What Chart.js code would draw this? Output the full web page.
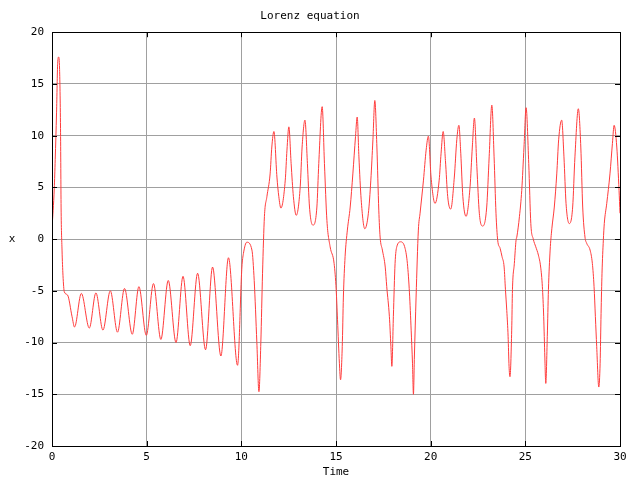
<!DOCTYPE html>
<html>
<head>
<meta charset="utf-8">
<script src="https://cdn.jsdelivr.net/npm/chart.js@4.4.0/dist/chart.umd.min.js"></script>
<style>
  html, body { margin: 0; padding: 0; background: #fff; }
  #wrap { width: 640px; height: 480px; }
</style>
</head>
<body>
<div id="wrap"><canvas id="lorenz" width="640" height="480"></canvas></div>
<script>
// time axis
const timeValues = [
  0, 0.12, 0.17, 0.24, 0.30, 0.35, 0.40, 0.45, 0.48, 0.53, 0.58, 0.65, 0.82, 1.06, 1.19,
  1.55, 1.97, 2.32, 2.69, 3.08, 3.46, 3.83, 4.24, 4.59, 4.98, 5.36, 5.75, 6.14, 6.55,
  6.92, 7.30, 7.69, 8.11, 8.48, 8.92, 9.32, 9.80, 10.03, 10.11, 10.29, 10.56, 10.68,
  10.82, 10.93, 11.03, 11.12, 11.22, 11.35, 11.52, 11.61, 11.72, 11.88, 11.98, 12.09,
  12.32, 12.41, 12.51, 12.63, 12.75, 12.90, 13.11, 13.21, 13.36, 13.49, 13.60, 13.78,
  13.99, 14.09, 14.27, 14.39, 14.52, 14.69, 14.90, 15.01, 15.08, 15.18, 15.24, 15.33,
  15.39, 15.48, 15.60, 15.75, 15.89, 16.03, 16.12, 16.21, 16.33, 16.52, 16.71, 16.84,
  16.95, 17.05, 17.16, 17.26, 17.33, 17.45, 17.60, 17.68, 17.82, 17.90, 17.95, 18.03,
  18.12, 18.21, 18.42, 18.65, 18.77, 18.88, 18.97, 19.04, 19.09, 19.14, 19.23, 19.35,
  19.44, 19.62, 19.76, 19.88, 20.02, 20.23, 20.45, 20.55, 20.66, 20.78, 20.90, 21.06,
  21.25, 21.38, 21.49, 21.59, 21.70, 21.87, 22.08, 22.20, 22.31, 22.44, 22.57, 22.75,
  22.96, 23.09, 23.23, 23.35, 23.45, 23.54, 23.67, 23.77, 23.88, 23.95, 24.02, 24.09,
  24.14, 24.19, 24.28, 24.32, 24.42, 24.51, 24.55, 24.69, 24.81, 24.93, 25.04, 25.18,
  25.29, 25.42, 25.55, 25.69, 25.81, 25.90, 25.97, 26.03, 26.08, 26.16, 26.22, 26.31,
  26.40, 26.53, 26.66, 26.76, 26.92, 27.04, 27.15, 27.32, 27.50, 27.62, 27.80, 27.93,
  28.03, 28.15, 28.24, 28.42, 28.54, 28.63, 28.70, 28.77, 28.88, 28.95, 29.00, 29.05,
  29.12, 29.17, 29.30, 29.47, 29.60, 29.69, 29.83, 29.95, 30.00
];
// x component of the solution
const xValues = [
  1.0, 4.9, 7.7, 12.2, 17.0, 17.6, 16.4, 10.7, 3.1, -1.06, -3.5, -5.1, -5.4, -7.5, -8.5,
  -5.25, -8.6, -5.2, -8.8, -5.0, -9.0, -4.77, -9.2, -4.6, -9.3, -4.3, -9.7, -4.0, -10.0,
  -3.6, -10.3, -3.3, -10.7, -2.7, -11.3, -1.8, -12.2, -2.7, -1.4, -0.3, -1.06, -4.0,
  -10.0, -14.75, -10.0, -3.3, 2.2, 4.1, 6.3, 8.9, 10.4, 6.0, 4.1, 3.0,
  5.7, 8.6, 10.85, 7.3, 4.1, 2.3, 5.05, 8.9, 11.5, 7.3, 3.1, 1.35,
  3.1, 7.3, 12.8, 7.3, 1.8, -0.74, -2.35, -4.9, -7.8, -12.0, -13.6, -10.4,
  -5.6, -1.7, 0.87, 3.1, 6.3, 9.9, 11.8, 7.95, 3.8, 1.0, 2.5, 5.7,
  9.6, 13.4, 8.9, 2.8, 0.2, -1.06, -2.7, -4.6, -7.5, -10.4, -12.3, -7.5,
  -2.35, -0.74, -0.26, -0.9, -2.35, -5.2, -8.8, -12.0, -15.0, -11.4, -5.6, 0.87,
  2.5, 5.7, 8.6, 9.95, 6.0, 3.45, 5.7, 8.3, 10.4, 7.6, 4.1, 2.9,
  6.0, 9.6, 11.0, 8.3, 4.1, 2.2, 5.05, 8.9, 11.7, 7.0, 2.5, 1.26,
  3.1, 7.95, 12.95, 7.95, 2.5, -0.1, -0.9, -1.7, -2.7, -4.9, -6.9, -9.4,
  -12.3, -13.3, -8.8, -4.9, -2.35, -0.1, 0.2, 2.2, 4.7, 8.9, 12.7, 7.3,
  1.5, 0.0, -0.74, -1.55, -2.7, -4.6, -7.5, -11.4, -13.95, -9.4, -4.9, -1.06,
  1.0, 3.1, 6.3, 9.6, 11.5, 7.95, 3.45, 1.5, 3.1, 7.95, 12.6, 8.9,
  3.1, 0.2, -0.4, -1.06, -2.35, -4.6, -7.5, -10.4, -14.3, -12.0, -7.2, -3.3,
  -0.1, 1.5, 3.45, 6.3, 9.25, 11.0, 8.9, 4.7, 2.5
];
const timeTicks = [0, 5, 10, 15, 20, 25, 30];
const xTicks = [-20, -15, -10, -5, 0, 5, 10, 15, 20];

const FONT = "'DejaVu Sans Mono', 'Liberation Mono', monospace";

const points = timeValues.map((t, i) => ({ x: t, y: xValues[i] }));

// gnuplot style: border with short inward ticks on all sides, plus axis labels
const frame = {
  id: 'frame',
  afterDraw(chart) {
    const { ctx, chartArea: a, scales } = chart;
    ctx.save();
    ctx.strokeStyle = '#000';
    ctx.lineWidth = 1;
    ctx.beginPath();
    timeTicks.forEach(v => {
      const px = Math.round(scales.x.getPixelForValue(v)) + 0.5;
      ctx.moveTo(px, a.top); ctx.lineTo(px, a.top + 5);
      ctx.moveTo(px, a.bottom); ctx.lineTo(px, a.bottom - 5);
    });
    xTicks.forEach(v => {
      const py = Math.round(scales.y.getPixelForValue(v)) + 0.5;
      ctx.moveTo(a.left, py); ctx.lineTo(a.left + 5, py);
      ctx.moveTo(a.right, py); ctx.lineTo(a.right - 5, py);
    });
    ctx.stroke();
    ctx.strokeRect(Math.round(a.left) + 0.5, Math.round(a.top) + 0.5,
      Math.round(a.right - a.left), Math.round(a.bottom - a.top));
    ctx.fillStyle = '#000';
    ctx.font = '11px ' + FONT;
    ctx.textAlign = 'center';
    ctx.textBaseline = 'middle';
    ctx.fillText('Time', (a.left + a.right) / 2, 472);
    ctx.fillText('x', 12, scales.y.getPixelForValue(0));
    ctx.restore();
  }
};

new Chart(document.getElementById('lorenz').getContext('2d'), {
  type: 'line',
  data: {
    datasets: [{
      data: points,
      borderColor: 'rgb(255, 60, 60)',
      borderWidth: 1,
      pointRadius: 0,
      fill: false,
      cubicInterpolationMode: 'monotone'
    }]
  },
  options: {
    responsive: false,
    animation: false,
    layout: { padding: { left: 0, right: 20, top: 0, bottom: 0 } },
    plugins: {
      legend: { display: false },
      tooltip: { enabled: false },
      title: {
        display: true,
        text: 'Lorenz equation',
        color: '#000',
        font: { family: FONT, size: 11, weight: 'normal', lineHeight: 1.2 },
        padding: { top: 10, bottom: 9 }
      }
    },
    scales: {
      x: {
        type: 'linear',
        min: 0, max: 30,
        afterFit: s => { s.height = 34; },
        afterBuildTicks: s => { s.ticks = timeTicks.map(v => ({ value: v })); },
        ticks: { color: '#000', font: { family: FONT, size: 11 }, padding: 5, maxRotation: 0 },
        grid: { color: '#a0a0a0', drawTicks: false },
        border: { display: false }
      },
      y: {
        min: -20, max: 20,
        afterFit: s => { s.width = 52; },
        afterBuildTicks: s => { s.ticks = xTicks.map(v => ({ value: v })); },
        ticks: { color: '#000', font: { family: FONT, size: 11 }, padding: 8 },
        grid: { color: '#a0a0a0', drawTicks: false },
        border: { display: false }
      }
    }
  },
  plugins: [frame]
});
</script>
</body>
</html>
